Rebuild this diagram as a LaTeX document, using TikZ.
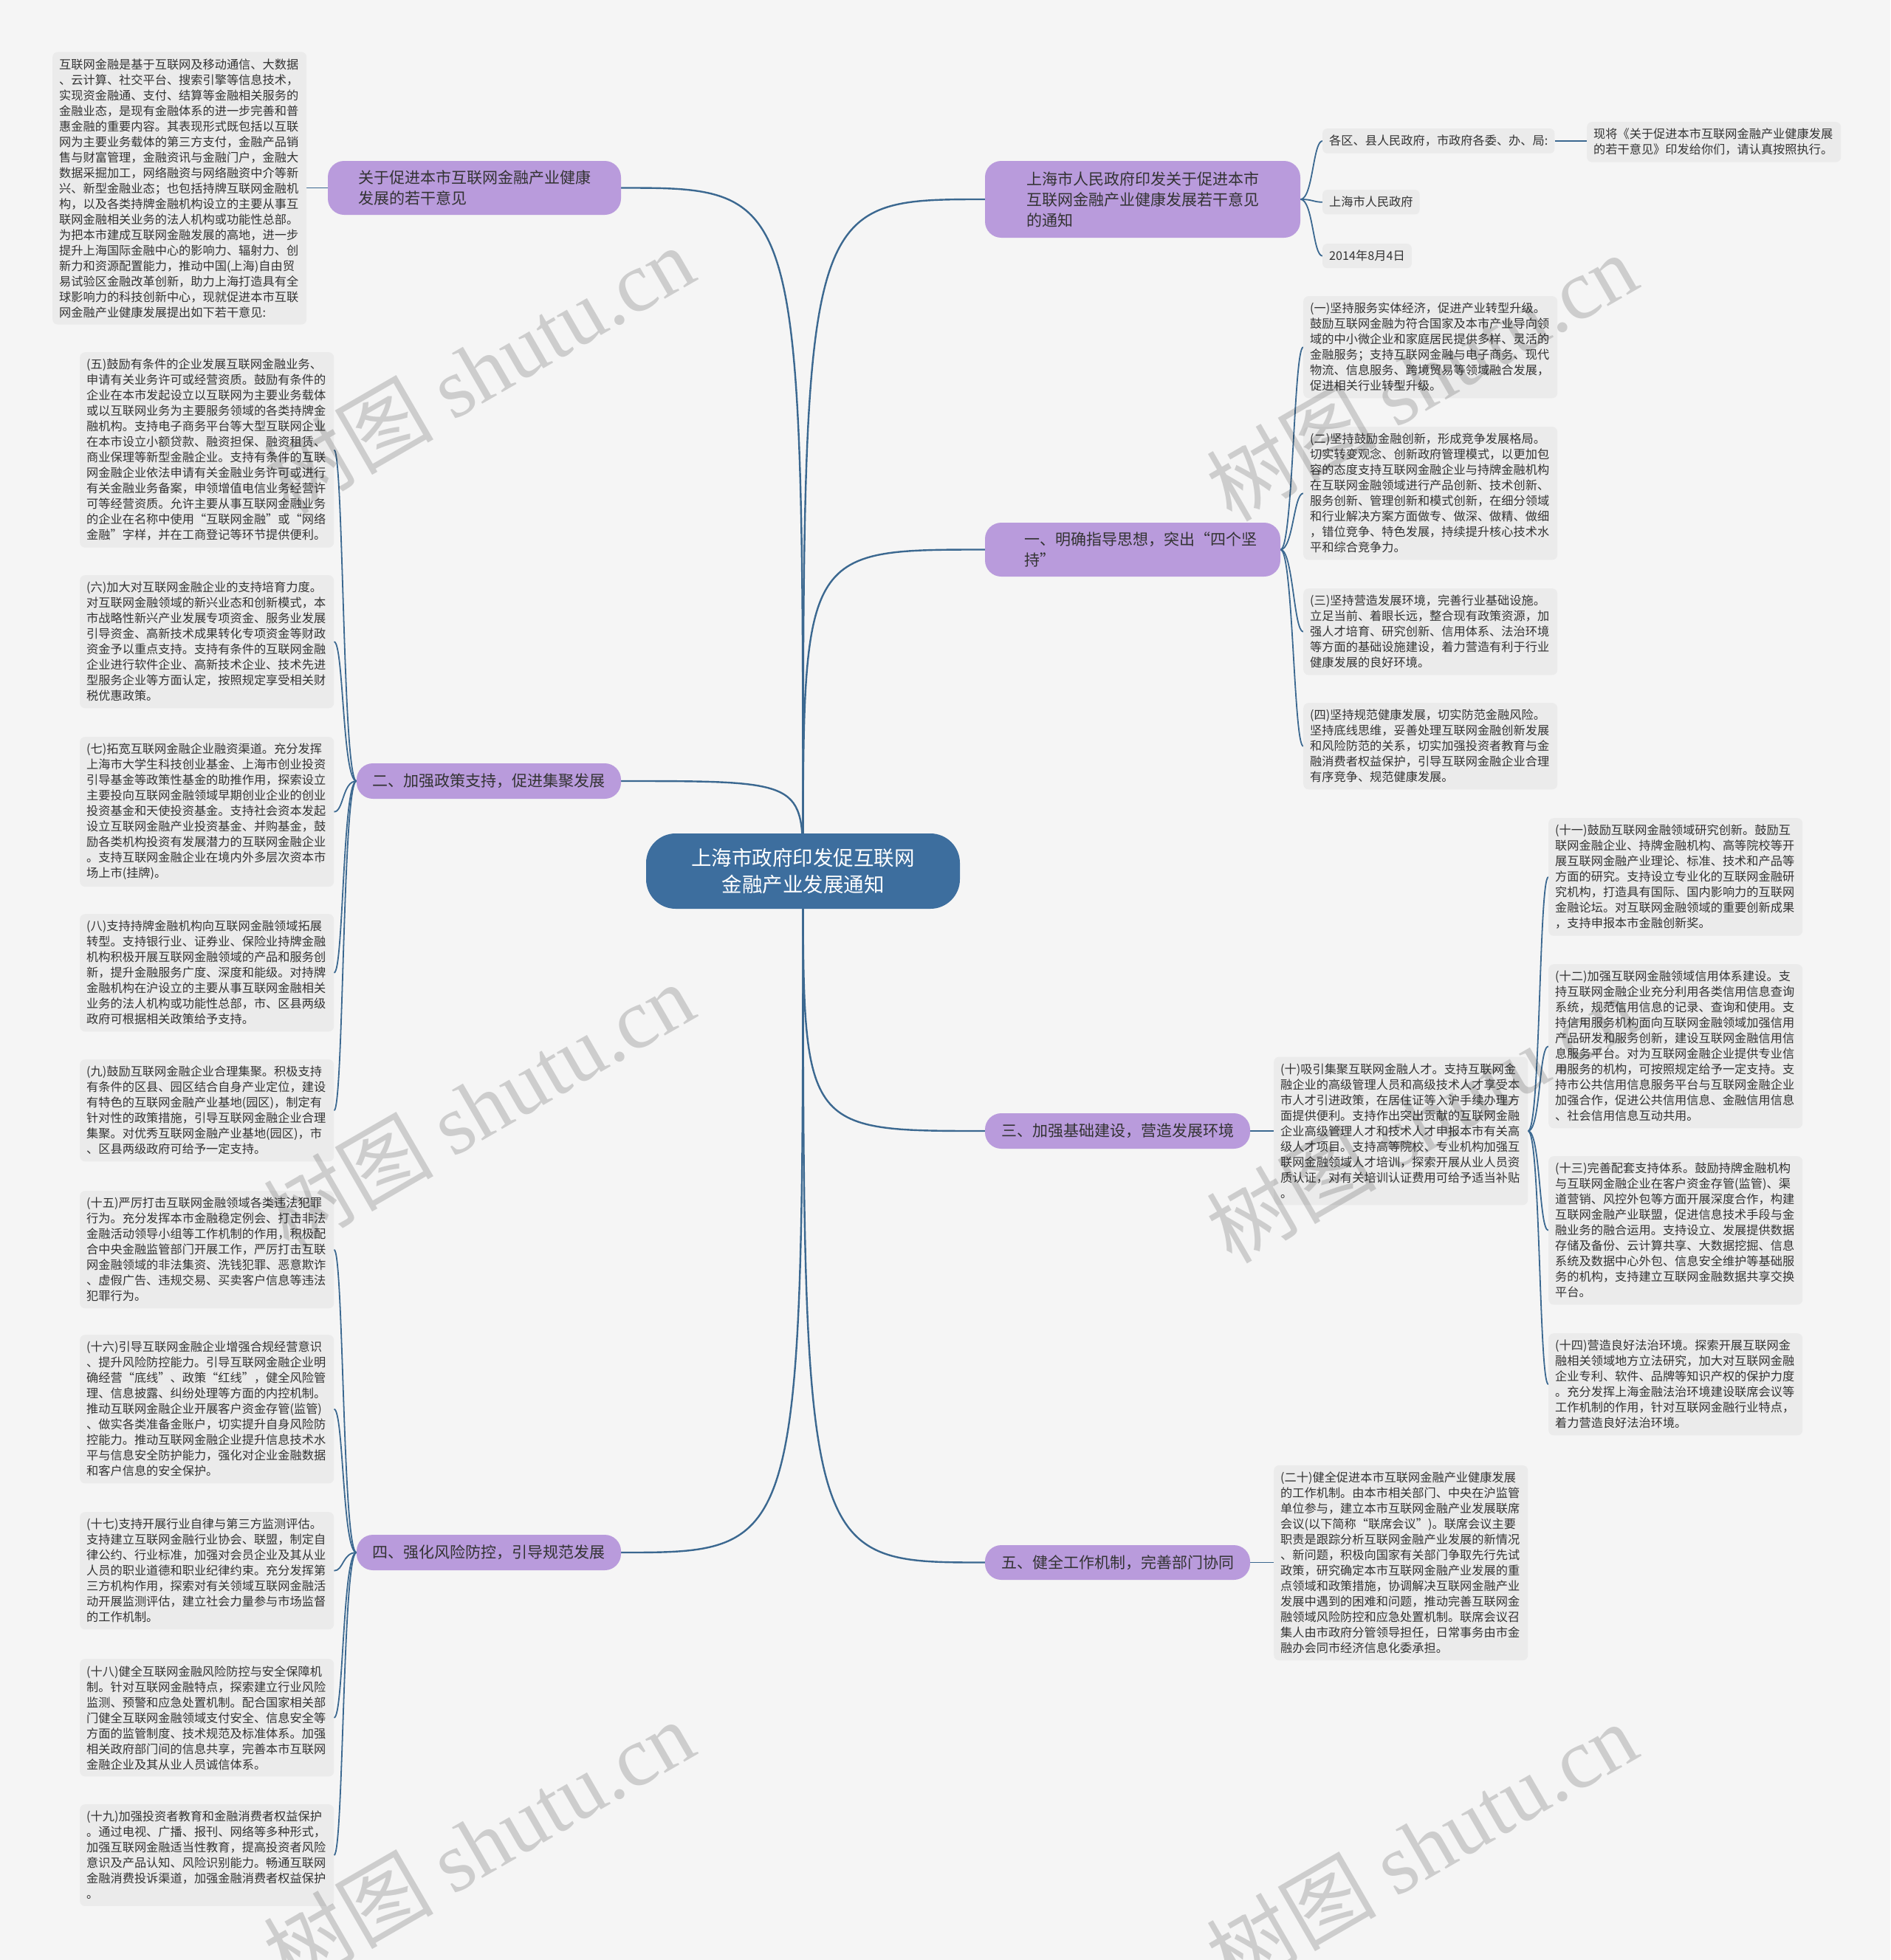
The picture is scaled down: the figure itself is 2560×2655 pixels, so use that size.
\documentclass[tikz,border=0pt]{standalone}
\usepackage{fontspec}
\setmainfont{Noto Sans CJK SC}
\newfontfamily\wmlatin{Liberation Serif}
\usetikzlibrary{calc}
\pgfdeclarelayer{bg}
\pgfsetlayers{bg,main}
\definecolor{bgc}{HTML}{F5F5F5}
\definecolor{boxc}{HTML}{EBEBEB}
\definecolor{purp}{HTML}{B99BDC}
\definecolor{rootc}{HTML}{3D6E9E}
\definecolor{linec}{HTML}{3B6890}
\definecolor{txt}{HTML}{333333}
\begin{document}
\begin{tikzpicture}[x=1pt,y=-1pt,
  tbox/.style={fill=boxc, rounded corners=7pt, inner xsep=9pt, inner ysep=9pt, align=left, text width=326pt, font=\fontsize{16.2}{21}\selectfont, text=txt},
  sbox/.style={fill=boxc, rounded corners=6pt, inner xsep=9pt, inner ysep=9pt, align=left, font=\fontsize{16.2}{21}\selectfont, text=txt},
  lvone/.style={fill=purp, rounded corners=22pt, align=left, font=\fontsize{21}{28}\selectfont, text=txt, inner sep=0pt},
  rootn/.style={fill=rootc, rounded corners=40pt, align=center, font=\fontsize{27.5}{36}\selectfont, text=white, minimum width=425pt, minimum height=102pt},
  mainln/.style={draw=linec, line width=2.4pt},
  subln/.style={draw=linec, line width=1.8pt},
  wm/.style={text=black, opacity=0.16, rotate=30, font=\fontsize{115}{120}\selectfont}
]
\useasboundingbox (0,0) rectangle (2560,2655);
\begin{pgfonlayer}{bg}
\fill[bgc] (0,0) rectangle (2560,2655);
\end{pgfonlayer}

% root
\node[rootn] (root) at (1087.5,1180) {上海市政府印发促互联网\\金融产业发展通知};

% level one
\node[lvone, minimum width=427pt, minimum height=104pt, text width=315pt] (tz) at (1547.5,270) {上海市人民政府印发关于促进本市\\互联网金融产业健康发展若干意见\\的通知};
\node[lvone, minimum width=400pt, minimum height=73pt, text width=294pt] (yi) at (1534,744.5) {一、明确指导思想，突出“四个坚\\持”};
\node[lvone, minimum width=359pt, minimum height=48pt, text width=315pt] (san) at (1513.5,1532) {三、加强基础建设，营造发展环境};
\node[lvone, minimum width=359pt, minimum height=47pt, text width=315pt] (wu) at (1513.5,2116.5) {五、健全工作机制，完善部门协同};
\node[lvone, minimum width=397pt, minimum height=73pt, text width=315pt] (gy) at (642.5,254.5) {关于促进本市互联网金融产业健康\\发展的若干意见};
\node[lvone, minimum width=358pt, minimum height=48pt, text width=315pt] (er) at (662,1058) {二、加强政策支持，促进集聚发展};
\node[lvone, minimum width=358pt, minimum height=48pt, text width=315pt] (si) at (662,2103) {四、强化风险防控，引导规范发展};

% notice children
\node[sbox, anchor=north west] (g1) at (1791,174) {各区、县人民政府，市政府各委、办、局:};
\node[tbox, anchor=north west] (g1a) at (2149,165) {现将《关于促进本市互联网金融产业健康发展\\的若干意见》印发给你们，请认真按照执行。};
\node[sbox, anchor=north west] (g2) at (1791,257) {上海市人民政府};
\node[sbox, anchor=north west] (g3) at (1791,330) {2014年8月4日};

% intro
\node[tbox, anchor=west] (intro) at (71,255) {互联网金融是基于互联网及移动通信、大数据\\、云计算、社交平台、搜索引擎等信息技术，\\实现资金融通、支付、结算等金融相关服务的\\金融业态，是现有金融体系的进一步完善和普\\惠金融的重要内容。其表现形式既包括以互联\\网为主要业务载体的第三方支付，金融产品销\\售与财富管理，金融资讯与金融门户，金融大\\数据采掘加工，网络融资与网络融资中介等新\\兴、新型金融业态；也包括持牌互联网金融机\\构，以及各类持牌金融机构设立的主要从事互\\联网金融相关业务的法人机构或功能性总部。\\为把本市建成互联网金融发展的高地，进一步\\提升上海国际金融中心的影响力、辐射力、创\\新力和资源配置能力，推动中国(上海)自由贸\\易试验区金融改革创新，助力上海打造具有全\\球影响力的科技创新中心，现就促进本市互联\\网金融产业健康发展提出如下若干意见:};

% right group one
\node[tbox, anchor=north west] (c1) at (1765,401) {(一)坚持服务实体经济，促进产业转型升级。\\鼓励互联网金融为符合国家及本市产业导向领\\域的中小微企业和家庭居民提供多样、灵活的\\金融服务；支持互联网金融与电子商务、现代\\物流、信息服务、跨境贸易等领域融合发展，\\促进相关行业转型升级。};
\node[tbox, anchor=north west] (c2) at (1765,578) {(二)坚持鼓励金融创新，形成竞争发展格局。\\切实转变观念、创新政府管理模式，以更加包\\容的态度支持互联网金融企业与持牌金融机构\\在互联网金融领域进行产品创新、技术创新、\\服务创新、管理创新和模式创新，在细分领域\\和行业解决方案方面做专、做深、做精、做细\\，错位竞争、特色发展，持续提升核心技术水\\平和综合竞争力。};
\node[tbox, anchor=north west] (c3) at (1765,797) {(三)坚持营造发展环境，完善行业基础设施。\\立足当前、着眼长远，整合现有政策资源，加\\强人才培育、研究创新、信用体系、法治环境\\等方面的基础设施建设，着力营造有利于行业\\健康发展的良好环境。};
\node[tbox, anchor=north west] (c4) at (1765,952) {(四)坚持规范健康发展，切实防范金融风险。\\坚持底线思维，妥善处理互联网金融创新发展\\和风险防范的关系，切实加强投资者教育与金\\融消费者权益保护，引导互联网金融企业合理\\有序竞争、规范健康发展。};

% group three
\node[tbox, anchor=west] (c10) at (1725,1532) {(十)吸引集聚互联网金融人才。支持互联网金\\融企业的高级管理人员和高级技术人才享受本\\市人才引进政策，在居住证等入沪手续办理方\\面提供便利。支持作出突出贡献的互联网金融\\企业高级管理人才和技术人才申报本市有关高\\级人才项目。支持高等院校、专业机构加强互\\联网金融领域人才培训，探索开展从业人员资\\质认证，对有关培训认证费用可给予适当补贴\\。};
\node[tbox, anchor=north west] (c11) at (2097,1108) {(十一)鼓励互联网金融领域研究创新。鼓励互\\联网金融企业、持牌金融机构、高等院校等开\\展互联网金融产业理论、标准、技术和产品等\\方面的研究。支持设立专业化的互联网金融研\\究机构，打造具有国际、国内影响力的互联网\\金融论坛。对互联网金融领域的重要创新成果\\，支持申报本市金融创新奖。};
\node[tbox, anchor=north west] (c12) at (2097,1306) {(十二)加强互联网金融领域信用体系建设。支\\持互联网金融企业充分利用各类信用信息查询\\系统，规范信用信息的记录、查询和使用。支\\持信用服务机构面向互联网金融领域加强信用\\产品研发和服务创新，建设互联网金融信用信\\息服务平台。对为互联网金融企业提供专业信\\用服务的机构，可按照规定给予一定支持。支\\持市公共信用信息服务平台与互联网金融企业\\加强合作，促进公共信用信息、金融信用信息\\、社会信用信息互动共用。};
\node[tbox, anchor=north west] (c13) at (2097,1566) {(十三)完善配套支持体系。鼓励持牌金融机构\\与互联网金融企业在客户资金存管(监管)、渠\\道营销、风控外包等方面开展深度合作，构建\\互联网金融产业联盟，促进信息技术手段与金\\融业务的融合运用。支持设立、发展提供数据\\存储及备份、云计算共享、大数据挖掘、信息\\系统及数据中心外包、信息安全维护等基础服\\务的机构，支持建立互联网金融数据共享交换\\平台。};
\node[tbox, anchor=north west] (c14) at (2097,1806) {(十四)营造良好法治环境。探索开展互联网金\\融相关领域地方立法研究，加大对互联网金融\\企业专利、软件、品牌等知识产权的保护力度\\。充分发挥上海金融法治环境建设联席会议等\\工作机制的作用，针对互联网金融行业特点，\\着力营造良好法治环境。};

% group five
\node[tbox, anchor=west] (c20) at (1725,2117) {(二十)健全促进本市互联网金融产业健康发展\\的工作机制。由本市相关部门、中央在沪监管\\单位参与，建立本市互联网金融产业发展联席\\会议(以下简称“联席会议”)。联席会议主要\\职责是跟踪分析互联网金融产业发展的新情况\\、新问题，积极向国家有关部门争取先行先试\\政策，研究确定本市互联网金融产业发展的重\\点领域和政策措施，协调解决互联网金融产业\\发展中遇到的困难和问题，推动完善互联网金\\融领域风险防控和应急处置机制。联席会议召\\集人由市政府分管领导担任，日常事务由市金\\融办会同市经济信息化委承担。};

% left group two
\node[tbox, anchor=north west] (c5) at (108,477) {(五)鼓励有条件的企业发展互联网金融业务、\\申请有关业务许可或经营资质。鼓励有条件的\\企业在本市发起设立以互联网为主要业务载体\\或以互联网业务为主要服务领域的各类持牌金\\融机构。支持电子商务平台等大型互联网企业\\在本市设立小额贷款、融资担保、融资租赁、\\商业保理等新型金融企业。支持有条件的互联\\网金融企业依法申请有关金融业务许可或进行\\有关金融业务备案，申领增值电信业务经营许\\可等经营资质。允许主要从事互联网金融业务\\的企业在名称中使用“互联网金融”或“网络\\金融”字样，并在工商登记等环节提供便利。};
\node[tbox, anchor=north west] (c6) at (108,779) {(六)加大对互联网金融企业的支持培育力度。\\对互联网金融领域的新兴业态和创新模式，本\\市战略性新兴产业发展专项资金、服务业发展\\引导资金、高新技术成果转化专项资金等财政\\资金予以重点支持。支持有条件的互联网金融\\企业进行软件企业、高新技术企业、技术先进\\型服务企业等方面认定，按照规定享受相关财\\税优惠政策。};
\node[tbox, anchor=north west] (c7) at (108,998) {(七)拓宽互联网金融企业融资渠道。充分发挥\\上海市大学生科技创业基金、上海市创业投资\\引导基金等政策性基金的助推作用，探索设立\\主要投向互联网金融领域早期创业企业的创业\\投资基金和天使投资基金。支持社会资本发起\\设立互联网金融产业投资基金、并购基金，鼓\\励各类机构投资有发展潜力的互联网金融企业\\。支持互联网金融企业在境内外多层次资本市\\场上市(挂牌)。};
\node[tbox, anchor=north west] (c8) at (108,1238) {(八)支持持牌金融机构向互联网金融领域拓展\\转型。支持银行业、证券业、保险业持牌金融\\机构积极开展互联网金融领域的产品和服务创\\新，提升金融服务广度、深度和能级。对持牌\\金融机构在沪设立的主要从事互联网金融相关\\业务的法人机构或功能性总部，市、区县两级\\政府可根据相关政策给予支持。};
\node[tbox, anchor=north west] (c9) at (108,1435) {(九)鼓励互联网金融企业合理集聚。积极支持\\有条件的区县、园区结合自身产业定位，建设\\有特色的互联网金融产业基地(园区)，制定有\\针对性的政策措施，引导互联网金融企业合理\\集聚。对优秀互联网金融产业基地(园区)，市\\、区县两级政府可给予一定支持。};

% left group four
\node[tbox, anchor=north west] (c15) at (108,1613) {(十五)严厉打击互联网金融领域各类违法犯罪\\行为。充分发挥本市金融稳定例会、打击非法\\金融活动领导小组等工作机制的作用，积极配\\合中央金融监管部门开展工作，严厉打击互联\\网金融领域的非法集资、洗钱犯罪、恶意欺诈\\、虚假广告、违规交易、买卖客户信息等违法\\犯罪行为。};
\node[tbox, anchor=north west] (c16) at (108,1808) {(十六)引导互联网金融企业增强合规经营意识\\、提升风险防控能力。引导互联网金融企业明\\确经营“底线”、政策“红线”，健全风险管\\理、信息披露、纠纷处理等方面的内控机制。\\推动互联网金融企业开展客户资金存管(监管)\\、做实各类准备金账户，切实提升自身风险防\\控能力。推动互联网金融企业提升信息技术水\\平与信息安全防护能力，强化对企业金融数据\\和客户信息的安全保护。};
\node[tbox, anchor=north west] (c17) at (108,2048) {(十七)支持开展行业自律与第三方监测评估。\\支持建立互联网金融行业协会、联盟，制定自\\律公约、行业标准，加强对会员企业及其从业\\人员的职业道德和职业纪律约束。充分发挥第\\三方机构作用，探索对有关领域互联网金融活\\动开展监测评估，建立社会力量参与市场监督\\的工作机制。};
\node[tbox, anchor=north west] (c18) at (108,2247) {(十八)健全互联网金融风险防控与安全保障机\\制。针对互联网金融特点，探索建立行业风险\\监测、预警和应急处置机制。配合国家相关部\\门健全互联网金融领域支付安全、信息安全等\\方面的监管制度、技术规范及标准体系。加强\\相关政府部门间的信息共享，完善本市互联网\\金融企业及其从业人员诚信体系。};
\node[tbox, anchor=north west] (c19) at (108,2444) {(十九)加强投资者教育和金融消费者权益保护\\。通过电视、广播、报刊、网络等多种形式，\\加强互联网金融适当性教育，提高投资者风险\\意识及产品认知、风险识别能力。畅通互联网\\金融消费投诉渠道，加强金融消费者权益保护\\。};

% connectors
\begin{pgfonlayer}{bg}
\foreach \t in {tz,yi,san,wu}
  \draw[mainln] (root.center) .. controls (root.center |- \t.west) .. (\t.west);
\foreach \t in {gy,er,si}
  \draw[mainln] (root.center) .. controls (root.center |- \t.east) .. (\t.east);
\foreach \c in {g1,g2,g3}
  \draw[subln] (tz.east) .. controls +(17,0) and +(-13,0) .. (\c.west);
\draw[subln] (g1.east) -- (g1.east -| g1a.west);
\draw[subln] (gy.west) -- (gy.west -| intro.east);
\foreach \c in {c1,c2,c3,c4}
  \draw[subln] (yi.east) .. controls +(17,0) and +(-13,0) .. (\c.west);
\draw[subln] (san.east) -- (san.east -| c10.west);
\draw[subln] (wu.east) -- (wu.east -| c20.west);
\foreach \c in {c11,c12,c13,c14}
  \draw[subln] (c10.east) .. controls +(17,0) and +(-13,0) .. (\c.west);
\foreach \c in {c5,c6,c7,c8,c9}
  \draw[subln] (er.west) .. controls +(-19,0) and +(13,0) .. (\c.east);
\foreach \c in {c15,c16,c17,c18,c19}
  \draw[subln] (si.west) .. controls +(-19,0) and +(13,0) .. (\c.east);
\end{pgfonlayer}

% watermarks
\foreach \p in {(648,500),(1925,510),(648,1498),(1925,1515),(648,2497),(1925,2500)}
  \node[wm] at \p {树图 {\wmlatin shutu.cn}};
\end{tikzpicture}
\end{document}
